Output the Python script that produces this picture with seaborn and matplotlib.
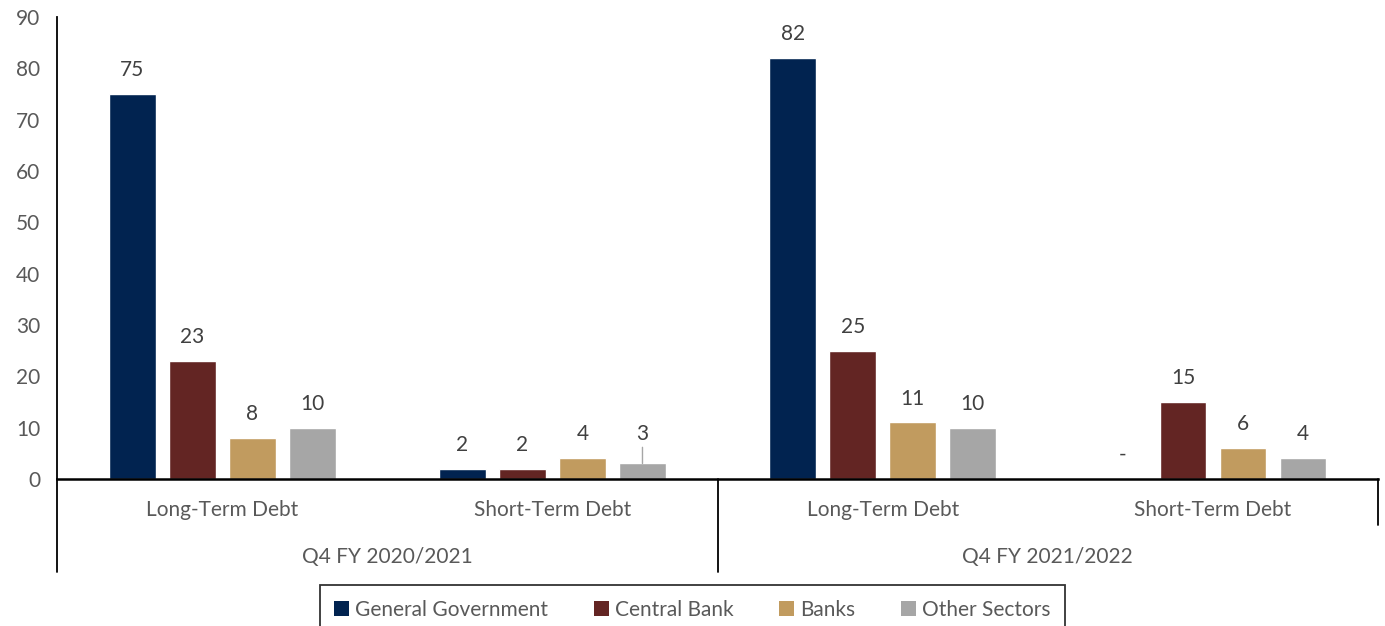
import matplotlib
matplotlib.use('Agg')
import matplotlib.pyplot as plt
import matplotlib.transforms as mtransforms
from matplotlib.patches import Patch
import pandas as pd
import seaborn as sns

# Chart data
periods = ['Q4 FY 2020/2021', 'Q4 FY 2021/2022']
debt_types = ['Long-Term Debt', 'Short-Term Debt']
sectors = ['General Government', 'Central Bank', 'Banks', 'Other Sectors']
colors = ['#012350', '#632523', '#C19B5F', '#A6A6A6']

general_government = [75, 2, 82, 0]
central_bank = [23, 2, 25, 15]
banks = [8, 4, 11, 6]
other_sectors = [10, 3, 10, 4]

yticks = list(range(0, 91, 10))

# Long-form table for seaborn
groups = [f'{p}|{d}' for p in periods for d in debt_types]
series = dict(zip(sectors, [general_government, central_bank, banks, other_sectors]))
rows = []
for sector, vals in series.items():
    for g, v in zip(groups, vals):
        rows.append({'group': g, 'sector': sector, 'value': v})
df = pd.DataFrame(rows)

sns.set_theme(style='white')
plt.rcParams['font.family'] = ['Lato', 'DejaVu Sans']

text_color = '#595959'
label_color = '#404040'
fs = 15

fig = plt.figure(figsize=(13.85, 6.26), dpi=100)
ax = fig.add_axes([0.0412, 0.235, 0.9538, 0.738])

sns.barplot(data=df, x='group', y='value', hue='sector', order=groups,
            hue_order=sectors, palette=colors, width=0.727, gap=0.22,
            legend=False, ax=ax, saturation=1)

# data labels
for ci, container in enumerate(ax.containers):
    vals = list(series.values())[ci]
    labels = ['-' if v == 0 else str(v) for v in vals]
    if ci == 3:
        # Excel label dragged above bar with a leader line
        bar = container[1]
        x = bar.get_x() + bar.get_width() / 2
        ax.annotate(labels[1], xy=(x, bar.get_height()), xytext=(0, 14),
                    textcoords='offset points', ha='center', va='bottom',
                    fontsize=fs, color=label_color,
                    arrowprops=dict(arrowstyle='-', color='#A6A6A6', lw=1,
                                    shrinkA=0, shrinkB=0))
        labels[1] = ''
    ax.bar_label(container, labels=labels, padding=10, fontsize=fs, color=label_color)

ax.set_ylim(0, 90)
ax.set_xlim(-0.5, len(groups) - 0.5)
ax.set_yticks(yticks)
ax.set_xlabel('')
ax.set_ylabel('')
ax.tick_params(axis='y', length=0, pad=12, labelsize=fs, labelcolor=text_color)
ax.tick_params(axis='x', length=0, pad=15, labelsize=fs, labelcolor=text_color)
ax.set_xticks(range(len(groups)))
ax.set_xticklabels([g.split('|')[1] for g in groups])

for side in ['top', 'right']:
    ax.spines[side].set_visible(False)
ax.spines['left'].set_color('black')
ax.spines['left'].set_linewidth(1.3)
ax.spines['bottom'].set_color('black')
ax.spines['bottom'].set_linewidth(1.8)

# second level of the category axis
trans = mtransforms.blended_transform_factory(ax.transData, ax.transAxes)
for i, p in enumerate(periods):
    ax.text(i * 2 + 0.5, -0.169, p, transform=trans, ha='center', va='center',
            fontsize=fs, color=text_color)
for xline, depth in [(-0.5, -0.201), (1.5, -0.201), (3.5, -0.10)]:
    ax.plot([xline, xline], [0, depth], transform=trans, color='black',
            lw=1.3, clip_on=False)

handles = [Patch(facecolor=c, edgecolor='none', label=s) for c, s in zip(colors, sectors)]
leg = fig.legend(handles=handles, loc='upper center', bbox_to_anchor=(0.5, 0.0655),
                 ncol=4, frameon=True, fancybox=False, fontsize=fs,
                 handlelength=0.7, handleheight=0.7, handletextpad=0.3,
                 columnspacing=2.2, borderpad=0.7, borderaxespad=0)
leg.get_frame().set_edgecolor('black')
leg.get_frame().set_linewidth(1.3)
for t in leg.get_texts():
    t.set_color(text_color)

fig.savefig('out.png', dpi=100)
